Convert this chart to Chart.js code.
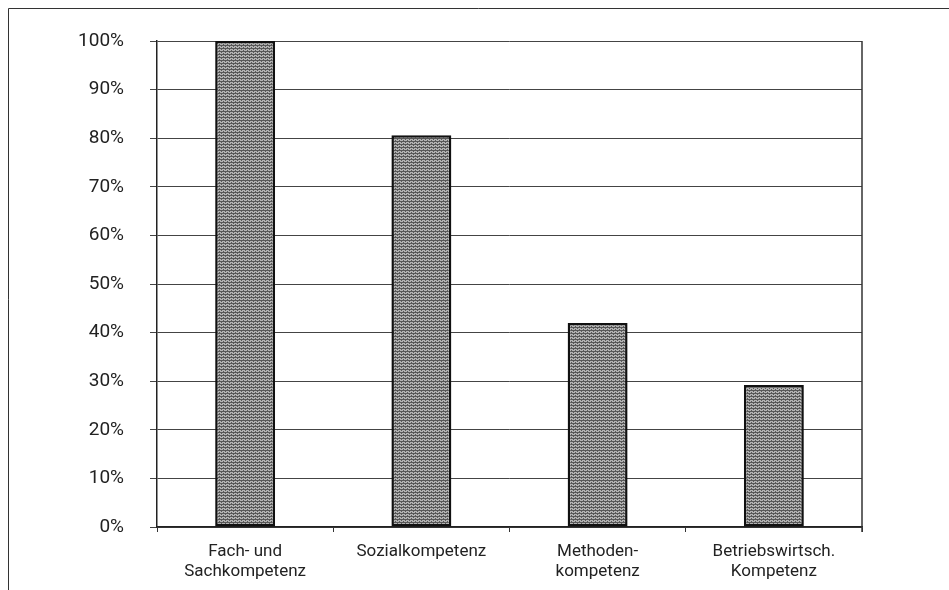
<!DOCTYPE html>
<html>
<head>
<meta charset="utf-8">
<script src="https://cdn.jsdelivr.net/npm/chart.js@4"></script>
<style>
  html, body { margin: 0; padding: 0; background: #fff; }
  #wrap { width: 949px; height: 590px; }
</style>
</head>
<body>
<div id="wrap"><canvas id="chart" width="949" height="590"></canvas></div>
<script>
/* ================================= 
  data
==================================== */
const categories = [
    ['Fach- und', 'Sachkompetenz'],
    'Sozialkompetenz',
    ['Methoden-', 'kompetenz'],
    ['Betriebswirtsch.', 'Kompetenz']
];
const shares = [100, 80.6, 42, 29.2];
const yTicks = [0, 10, 20, 30, 40, 50, 60, 70, 80, 90, 100];

/* ================================= 
  hatched gray fill like the scan
==================================== */
function makeHatch() {
    const c = document.createElement('canvas');
    c.width = 4;
    c.height = 3;
    const g = c.getContext('2d');
    g.fillStyle = '#b2b2b2';
    g.fillRect(0, 0, 4, 3);
    g.fillStyle = '#585858';
    g.fillRect(0, 0, 4, 1);
    g.fillRect(1, 1, 1, 1);
    g.fillRect(3, 2, 1, 1);
    return g.createPattern(c, 'repeat');
}

// page frame + right edge of plot
const framePlugin = {
    id: 'frame',
    afterDraw(chart) {
        const ctx = chart.ctx;
        const a = chart.chartArea;
        ctx.save();
        ctx.strokeStyle = '#333';
        ctx.lineWidth = 1;
        ctx.beginPath();
        ctx.moveTo(8.5, 590);
        ctx.lineTo(8.5, 8.5);
        ctx.lineTo(949, 8.5);
        ctx.stroke();
        ctx.lineWidth = 1.5;
        ctx.beginPath();
        ctx.moveTo(a.right, a.top);
        ctx.lineTo(a.right, a.bottom + 5);
        ctx.stroke();
        ctx.restore();
    }
};

/* ================================= 
  bar chart
==================================== */
const chart = new Chart(document.getElementById('chart'), {
    type: 'bar',
    data: {
        labels: categories,
        datasets: [{
            data: shares,
            backgroundColor: makeHatch(),
            borderColor: '#111',
            borderWidth: 2.5,
            borderSkipped: false,
            barPercentage: 0.34,
            categoryPercentage: 1
        }]
    },
    options: {
        responsive: false,
        animation: false,
        layout: {
            padding: { top: 41, right: 87, bottom: 0, left: 0 }
        },
        plugins: {
            legend: { display: false },
            tooltip: { enabled: false }
        },
        scales: {
            x: {
                offset: true,
                grid: {
                    offset: true,
                    drawOnChartArea: false,
                    drawTicks: true,
                    tickLength: 5,
                    color: '#333'
                },
                border: { color: '#222', width: 1.5 },
                ticks: {
                    color: '#222',
                    padding: 9,
                    maxRotation: 0,
                    autoSkip: false,
                    font: { family: 'Roboto', size: 17, lineHeight: 1.22 }
                },
                afterFit(scale) { scale.height = 63; }
            },
            y: {
                min: 0,
                max: 100,
                afterBuildTicks(scale) {
                    scale.ticks = yTicks.map(v => ({ value: v }));
                },
                grid: {
                    color: '#444',
                    lineWidth: 1,
                    tickLength: 7
                },
                border: { color: '#222', width: 1.5 },
                ticks: {
                    color: '#222',
                    padding: 26,
                    font: { family: 'Roboto', size: 19 },
                    callback: v => v + '%'
                },
                afterFit(scale) { scale.width = 157; }
            }
        }
    },
    plugins: [framePlugin]
});
</script>
</body>
</html>
